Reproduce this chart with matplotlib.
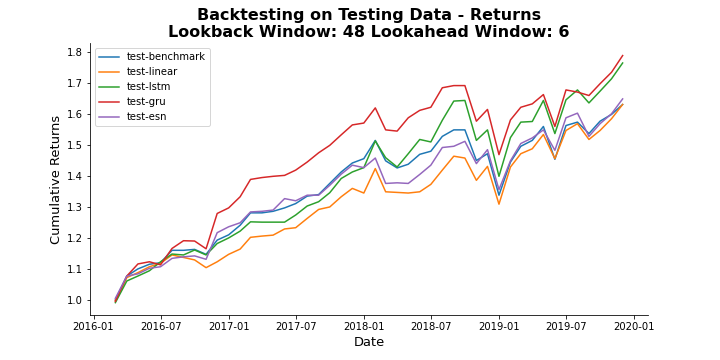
import pandas as pd
import matplotlib.pyplot as plt

# monthly month-end dates, Feb 2016 .. Nov 2019
dates = pd.date_range('2016-02-29', periods=46, freq='ME')

benchmark = [1.000, 1.077, 1.100, 1.115, 1.120, 1.160, 1.160, 1.163, 1.147, 1.193,
             1.210, 1.241, 1.281, 1.281, 1.286, 1.297, 1.311, 1.335, 1.340, 1.376,
             1.413, 1.442, 1.456, 1.515, 1.449, 1.426, 1.438, 1.470, 1.480, 1.528,
             1.549, 1.549, 1.450, 1.472, 1.338, 1.445, 1.496, 1.515, 1.560, 1.454,
             1.563, 1.574, 1.537, 1.577, 1.599, 1.631]
linear = [0.998, 1.072, 1.088, 1.107, 1.118, 1.145, 1.137, 1.129, 1.104, 1.123,
          1.147, 1.164, 1.202, 1.206, 1.209, 1.229, 1.233, 1.263, 1.292, 1.300,
          1.333, 1.360, 1.345, 1.424, 1.349, 1.347, 1.345, 1.349, 1.373, 1.419,
          1.464, 1.458, 1.386, 1.431, 1.309, 1.429, 1.472, 1.488, 1.534, 1.456,
          1.547, 1.569, 1.518, 1.547, 1.585, 1.631]
lstm = [0.991, 1.061, 1.077, 1.094, 1.123, 1.148, 1.145, 1.161, 1.145, 1.182,
        1.200, 1.222, 1.252, 1.251, 1.251, 1.251, 1.274, 1.303, 1.317, 1.346,
        1.392, 1.413, 1.427, 1.513, 1.459, 1.429, 1.472, 1.518, 1.510, 1.580,
        1.642, 1.644, 1.515, 1.549, 1.399, 1.524, 1.574, 1.576, 1.644, 1.537,
        1.646, 1.678, 1.636, 1.674, 1.714, 1.765]
gru = [0.995, 1.077, 1.116, 1.123, 1.113, 1.166, 1.191, 1.190, 1.165, 1.279,
       1.297, 1.333, 1.389, 1.395, 1.399, 1.402, 1.419, 1.445, 1.475, 1.499,
       1.533, 1.565, 1.571, 1.620, 1.549, 1.545, 1.588, 1.612, 1.622, 1.685,
       1.692, 1.692, 1.577, 1.615, 1.469, 1.581, 1.622, 1.633, 1.663, 1.560,
       1.678, 1.671, 1.660, 1.698, 1.735, 1.789]
esn = [1.005, 1.077, 1.084, 1.102, 1.107, 1.134, 1.139, 1.142, 1.131, 1.217,
       1.236, 1.249, 1.284, 1.286, 1.290, 1.327, 1.320, 1.338, 1.338, 1.370,
       1.406, 1.435, 1.427, 1.458, 1.376, 1.378, 1.376, 1.405, 1.435, 1.492,
       1.496, 1.512, 1.440, 1.485, 1.356, 1.449, 1.505, 1.523, 1.549, 1.483,
       1.588, 1.603, 1.528, 1.569, 1.601, 1.649]

series = {'test-benchmark': benchmark, 'test-linear': linear, 'test-lstm': lstm,
          'test-gru': gru, 'test-esn': esn}

fig, ax = plt.subplots(figsize=(10, 5), dpi=72)
fig.subplots_adjust(left=0.125, right=0.9, top=0.88, bottom=0.125)

for name, vals in series.items():
    ax.plot(dates, vals, label=name, linewidth=1.5)

ax.set_title('Backtesting on Testing Data - Returns\nLookback Window: 48 Lookahead Window: 6',
             fontweight='bold', fontsize=16)
ax.set_xlabel('Date', fontsize=13)
ax.set_ylabel('Cumulative Returns', fontsize=13)
ax.tick_params(labelsize=10)
ax.spines['top'].set_visible(False)
ax.spines['right'].set_visible(False)
ax.legend(loc='upper left', fontsize=10)

plt.savefig('out.png')
